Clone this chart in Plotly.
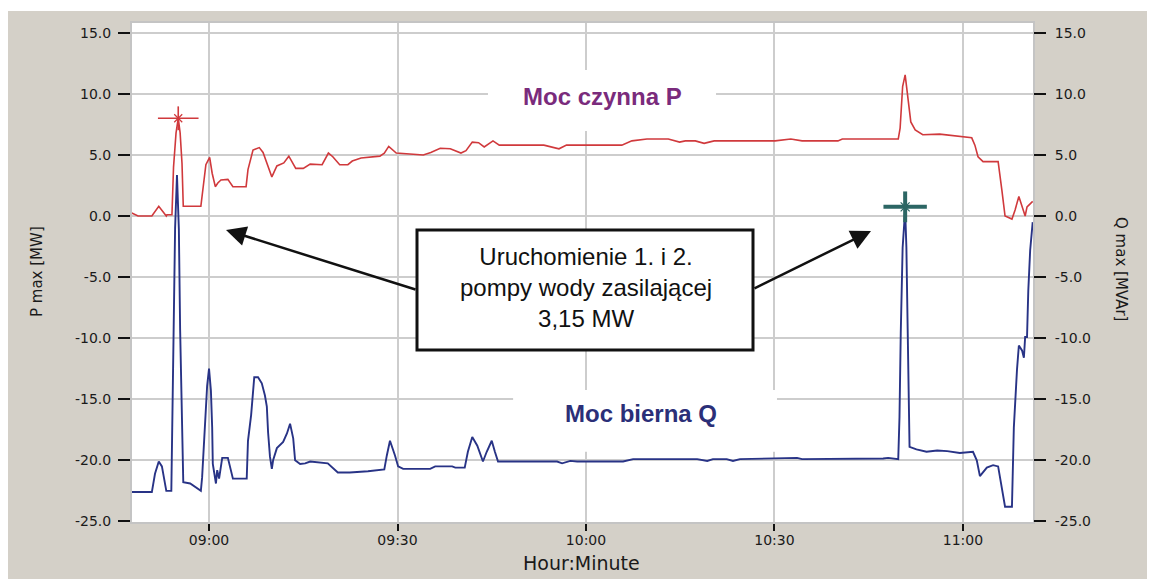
import plotly.graph_objects as go
import pandas as pd

# ---------------- data (minutes relative to 09:00) ----------------
p_minutes = [-12.3, -11.3, -9.1, -8.0, -6.8, -6.7, -5.9, -5.8, -5.65, -5.25,
             -4.9, -4.6, -4.3, -4.1, -1.3, -0.5, 0.1, 0.5, 1.0, 1.4,
             1.9, 3.0, 3.8, 5.9, 6.2, 7.0, 8.0, 8.6, 10.0, 10.8,
             11.9, 12.7, 13.8, 15.0, 16.1, 18.0, 19.0, 19.7, 20.8, 22.1,
             22.8, 24.2, 27.2, 27.9, 28.6, 29.8, 32.0, 34.1, 35.3, 36.8,
             38.4, 40.1, 40.9, 41.9, 42.9, 43.8, 45.2, 46.2, 53.3, 54.4,
             55.7, 56.9, 65.7, 67.3, 69.7, 73.1, 74.9, 75.8, 77.4, 78.8,
             80.4, 90.1, 92.6, 94.4, 100.1, 100.8, 109.7, 110.0, 110.4, 110.8,
             111.0, 111.2, 111.7, 112.4, 113.6, 116.3, 119.1, 120.0, 121.4, 121.9,
             122.4, 123.2, 125.6, 126.2, 126.7, 127.8, 128.3, 128.9, 129.6, 129.9,
             130.2, 131.1]
p_values = [0.25, 0.0, 0.0, 0.8, 0.0, 0.1, 0.1, 1.5, 4.0, 6.8,
            8.0, 6.8, 4.3, 0.8, 0.8, 4.2, 4.8, 3.5, 2.4, 2.7,
            2.95, 3.0, 2.4, 2.4, 3.8, 5.4, 5.6, 5.2, 3.2, 4.1,
            4.35, 4.9, 3.9, 3.9, 4.25, 4.2, 5.15, 4.85, 4.2, 4.2,
            4.5, 4.75, 4.9, 5.15, 5.7, 5.15, 5.1, 5.0, 5.2, 5.55,
            5.5, 5.15, 5.35, 6.05, 6.0, 5.65, 6.15, 5.8, 5.8, 5.65,
            5.5, 5.8, 5.8, 6.15, 6.3, 6.3, 6.05, 6.15, 6.15, 5.95,
            6.15, 6.15, 6.3, 6.15, 6.15, 6.3, 6.3, 7.2, 10.6, 11.55,
            10.7, 9.5, 7.7, 7.05, 6.65, 6.7, 6.55, 6.45, 6.4, 5.8,
            4.85, 4.45, 4.45, 2.1, 0.0, -0.25, 0.5, 1.6, 0.55, 0.0,
            0.75, 1.2]

q_minutes = [-12.3, -9.1, -8.6, -8.0, -7.5, -6.8, -6.0, -5.9, -5.7, -5.4,
             -5.1, -4.8, -4.6, -4.3, -4.1, -3.0, -1.9, -1.3, -1.1, -0.8,
             -0.5, -0.3, 0.0, 0.3, 0.5, 0.6, 1.1, 1.3, 1.6, 2.1,
             3.0, 3.8, 6.0, 6.2, 6.7, 7.2, 7.8, 8.4, 8.9, 9.2,
             9.4, 9.7, 10.0, 10.2, 10.8, 11.8, 12.4, 12.9, 13.4, 13.7,
             14.5, 15.3, 16.1, 18.9, 20.5, 22.4, 25.3, 27.9, 28.3, 28.8,
             29.6, 30.1, 30.9, 35.2, 36.0, 38.7, 39.2, 40.7, 41.2, 41.9,
             42.7, 43.6, 44.2, 45.0, 45.5, 46.0, 55.4, 56.2, 57.5, 58.6,
             65.9, 67.5, 77.7, 79.3, 80.2, 82.4, 83.4, 84.5, 93.6, 94.4,
             107.3, 108.1, 109.7, 109.9, 110.1, 110.4, 110.8, 111.0, 111.2, 111.4,
             111.5, 112.6, 114.2, 115.9, 117.5, 119.5, 121.6, 122.2, 122.7, 123.8,
             124.8, 125.6, 126.2, 126.7, 127.8, 128.1, 128.6, 128.9, 129.4, 129.7,
             129.9, 130.2, 130.4, 130.7, 131.1]
q_values = [-22.6, -22.6, -21.1, -20.1, -20.5, -22.5, -22.5, -18.2, -9.5, -1.0,
            3.35, -1.1, -9.3, -17.7, -21.8, -21.9, -22.3, -22.5, -21.4, -18.8,
            -16.2, -13.9, -12.5, -14.3, -17.3, -20.3, -21.9, -20.8, -21.5, -19.8,
            -19.8, -21.5, -21.5, -18.4, -16.3, -13.2, -13.2, -13.7, -14.7, -15.6,
            -17.7, -19.7, -20.7, -20.0, -19.0, -18.5, -17.8, -17.0, -18.2, -20.0,
            -20.3, -20.25, -20.1, -20.25, -21.0, -21.0, -20.9, -20.75, -19.6, -18.4,
            -19.6, -20.5, -20.7, -20.7, -20.5, -20.5, -20.6, -20.6, -19.3, -18.1,
            -18.8, -20.1, -19.3, -18.4, -19.3, -20.1, -20.1, -20.25, -20.05, -20.1,
            -20.1, -19.9, -19.9, -20.05, -19.9, -19.9, -20.05, -19.9, -19.8, -19.9,
            -19.85, -19.8, -19.9, -16.45, -9.6, -2.6, 0.5, -2.6, -9.2, -15.6,
            -18.9, -19.1, -19.3, -19.2, -19.25, -19.4, -19.3, -20.0, -21.3, -20.6,
            -20.4, -20.5, -22.5, -23.8, -23.8, -17.3, -12.6, -10.6, -11.0, -11.6,
            -9.9, -9.9, -6.1, -2.8, -0.5]

p_cursor = (-4.9, 8.0)
q_cursor = (110.8, 0.75)

x_tick_minutes = [0, 30, 60, 90, 120]
x_tick_labels = ["09:00", "09:30", "10:00", "10:30", "11:00"]
y_tick_values = [15, 10, 5, 0, -5, -10, -15, -20, -25]
y_tick_labels = ["15.0", "10.0", "5.0", "0.0", "-5.0", "-10.0", "-15.0", "-20.0", "-25.0"]
x_range_minutes = (-12.26, 131.15)
y_range = (-25.05, 15.8)

BASE = pd.Timestamp("2000-01-01 09:00:00")


def t(m):
    return BASE + pd.to_timedelta(m, unit="m")


def ts(ms):
    return [t(m) for m in ms]


RED = "#d0393c"
NAVY = "#283386"
TEAL = "#2c6664"
GRAY_BG = "#d4d0c8"
GRID = "#cdcdcd"
TICKFONT = dict(family="DejaVu Sans", size=14, color="#1a1a1a")

fig = go.Figure()

fig.add_trace(go.Scatter(x=ts(p_minutes), y=p_values, mode="lines",
                         line=dict(color=RED, width=1.6), name="P", yaxis="y",
                         hoverinfo="skip"))
fig.add_trace(go.Scatter(x=ts(q_minutes), y=q_values, mode="lines",
                         line=dict(color=NAVY, width=1.9), name="Q", yaxis="y2",
                         hoverinfo="skip"))


def cursor(pt, color, w, hsize, vsize, xsize, axis):
    for sym, size in (("line-ew", hsize), ("line-ns", vsize)):
        fig.add_trace(go.Scatter(x=[t(pt[0])], y=[pt[1]], mode="markers", yaxis=axis,
                                 marker=dict(symbol=sym, size=size, color=color,
                                             line=dict(color=color, width=w)),
                                 hoverinfo="skip", showlegend=False))
    fig.add_trace(go.Scatter(x=[t(pt[0])], y=[pt[1]], mode="markers", yaxis=axis,
                             marker=dict(symbol="x-thin", size=xsize, color=color,
                                         line=dict(color=color, width=1.2)),
                             hoverinfo="skip", showlegend=False))


cursor(p_cursor, RED, 1.6, 29, 17, 8, "y")
cursor(q_cursor, TEAL, 4, 31, 22, 9, "y2")

# page body has an 8 px margin: figure origin sits at screen (8, 8)
OFF = 8
W, H = 1155 - OFF, 579 - OFF
PL, PR, PT, PB = 132, 1033, 23, 522          # plot box in screen pixels
ML, MR, MT, MB = PL - OFF, W - (PR - OFF), PT - OFF, H - (PB - OFF)
PW, PH = PR - PL, PB - PT


def px(xp):
    return (xp - PL) / PW


def py(yp):
    return (PB - yp) / PH


def label(text, x, y, size, color, family="Liberation Sans, Arial", angle=0):
    return dict(text=text, xref="paper", yref="paper", x=px(x), y=py(y),
                xanchor="center", yanchor="middle", textangle=angle,
                showarrow=False, font=dict(family=family, size=size, color=color))


shapes = [
    dict(type="rect", xref="paper", yref="paper", x0=px(8), x1=px(1170), y0=py(600), y1=py(11),
         fillcolor=GRAY_BG, line=dict(width=0), layer="below"),
    dict(type="rect", xref="paper", yref="paper", x0=0, x1=1, y0=0, y1=1,
         fillcolor="white", line=dict(width=0), layer="below"),
    dict(type="rect", xref="x", yref="y", x0=t(44.4), x1=t(80.7), y0=6.96, y1=11.95,
         fillcolor="white", line=dict(width=0), layer="between"),
    dict(type="rect", xref="x", yref="y", x0=t(48.4), x1=t(90.4), y0=-19.3, y1=-14.25,
         fillcolor="white", line=dict(width=0), layer="between"),
    dict(type="rect", xref="paper", yref="paper", x0=px(417), x1=px(753), y0=py(350), y1=py(230),
         fillcolor="white", line=dict(color="#111111", width=3), layer="above"),
]

annotations = [
    label("<b>Moc czynna P</b>", 602, 96, 24, "#7a2b7c"),
    label("<b>Moc bierna Q</b>", 641, 413, 24, "#2b2f78"),
    label("Uruchomienie 1. i 2.<br>pompy wody zasilającej<br>3,15 MW", 586, 287, 24, "#111111"),
    dict(text="", xref="paper", yref="paper", x=px(226), y=py(230), ax=191, ay=60,
         axref="pixel", ayref="pixel", showarrow=True, arrowhead=2, arrowsize=1.6,
         arrowwidth=2.5, arrowcolor="#111111"),
    dict(text="", xref="paper", yref="paper", x=px(871), y=py(231), ax=-118, ay=58,
         axref="pixel", ayref="pixel", showarrow=True, arrowhead=2, arrowsize=1.6,
         arrowwidth=2.5, arrowcolor="#111111"),
    label("P max [MW]", 37, 272, 15, "#1a1a1a", family="DejaVu Sans", angle=-90),
    label("Q max [MVAr]", 1121, 269, 15, "#1a1a1a", family="DejaVu Sans", angle=90),
    label("Hour:Minute", 581, 563, 19, "#1a1a1a", family="DejaVu Sans"),
]

fig.update_layout(
    width=W, height=H,
    margin=dict(l=ML, r=MR, t=MT, b=MB, pad=0),
    paper_bgcolor="white", plot_bgcolor="white",
    showlegend=False,
    shapes=shapes, annotations=annotations,
    xaxis=dict(type="date", range=[t(x_range_minutes[0]), t(x_range_minutes[1])],
               tickvals=ts(x_tick_minutes), ticktext=x_tick_labels,
               ticks="outside", ticklen=7, tickwidth=2, tickcolor="#111111",
               showgrid=True, gridcolor=GRID, gridwidth=2,
               showline=True, mirror=True, linecolor="#c4c4c4", linewidth=2,
               tickfont=TICKFONT, zeroline=False, fixedrange=True,
               ticklabelstandoff=-3),
    yaxis=dict(range=list(y_range), tickvals=y_tick_values, ticktext=y_tick_labels,
               ticks="outside", ticklen=12, tickwidth=1.5, tickcolor="#111111",
               showgrid=True, gridcolor=GRID, gridwidth=2,
               showline=True, mirror=True, linecolor="#c4c4c4", linewidth=2,
               tickfont=TICKFONT, zeroline=False, ticklabelstandoff=4),
    yaxis2=dict(range=list(y_range), tickvals=y_tick_values, ticktext=y_tick_labels,
                overlaying="y", side="right",
                ticks="outside", ticklen=12, tickwidth=1.5, tickcolor="#111111",
                showgrid=False, showline=False, zeroline=False,
                tickfont=TICKFONT, ticklabelstandoff=6),
)

fig.write_html("out.html")
